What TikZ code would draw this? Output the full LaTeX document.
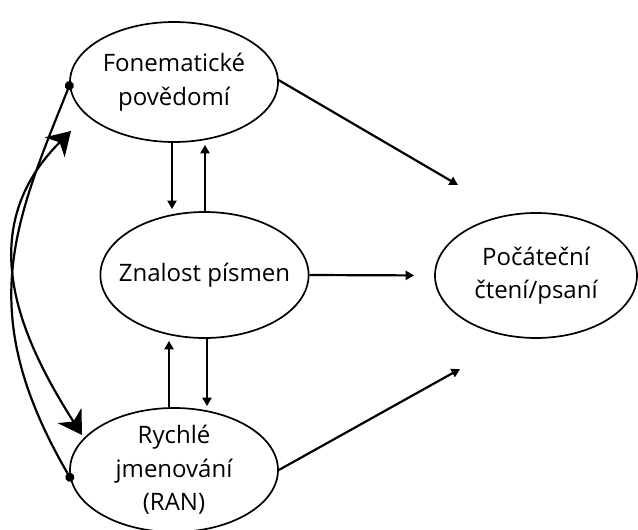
\documentclass[tikz,border=0pt]{standalone}
\usepackage{fontspec}
\setmainfont{Open Sans}
\usepackage{tikz}
\usetikzlibrary{arrows.meta,shapes.geometric}

\begin{document}
\begin{tikzpicture}[
  x=1pt,y=-1pt,
  blob/.style={draw,ellipse,line width=1.7pt,inner sep=-12pt,align=center,
               font=\fontsize{24}{33.5}\selectfont},
  flow/.style={-{Triangle[length=8.5pt,width=9pt]},line width=2.2pt},
  link/.style={{Circle[length=9pt]}-{Circle[length=9pt]},line width=2.2pt,
               shorten <=-4.5pt,shorten >=-4.5pt},
  twoway/.style={{Stealth[length=23pt,width=28pt,inset=7pt]}-{Stealth[length=23pt,width=28pt,inset=7pt]},
                 line width=2.2pt}
]
\useasboundingbox (0,0) rectangle (638,530);
\node[blob,minimum width=208pt,minimum height=120pt] (fonem) at (174,82) {Fonematické\\povědomí};
\node[blob,minimum width=205pt,minimum height=126pt] (znalost) at (204.5,275) {Znalost písmen};
\node[blob,minimum width=208pt,minimum height=124pt] (ran) at (174,470) {Rychlé\\jmenování\\(RAN)};
\node[blob,minimum width=202pt,minimum height=125pt] (cteni) at (536,275.5) {Počáteční\\čtení/psaní};
\coordinate (toptip) at (458,185);
\coordinate (bottip) at (460,369);
\coordinate (arrA) at (71,131);
\coordinate (arrB) at (82,435);
% vertical links
\draw[flow,shorten >=2pt] ([xshift=-2pt]fonem.south) -- ([xshift=-32.5pt]znalost.north);
\draw[flow,shorten >=2pt] ([xshift=0.5pt]znalost.north) -- ([xshift=31pt]fonem.south);
\draw[flow,shorten >=2pt] ([xshift=-5pt]ran.north) -- ([xshift=-35.5pt]znalost.south);
\draw[flow,shorten >=1pt] ([xshift=2.5pt]znalost.south) -- ([xshift=33pt]ran.north);
% to outcome
\draw[flow] (fonem.1) -- (toptip);
\draw[flow,shorten >=20pt] (znalost.east) -- (cteni.west);
\draw[flow] (ran.east) -- (bottip);
% left side
\draw[link] (fonem.182) .. controls +(-56,140) and +(-96,-165) .. (ran.184);
\draw[twoway] (arrA) .. controls +(-96,96) and +(-67,-105) .. (arrB);
\end{tikzpicture}
\end{document}
